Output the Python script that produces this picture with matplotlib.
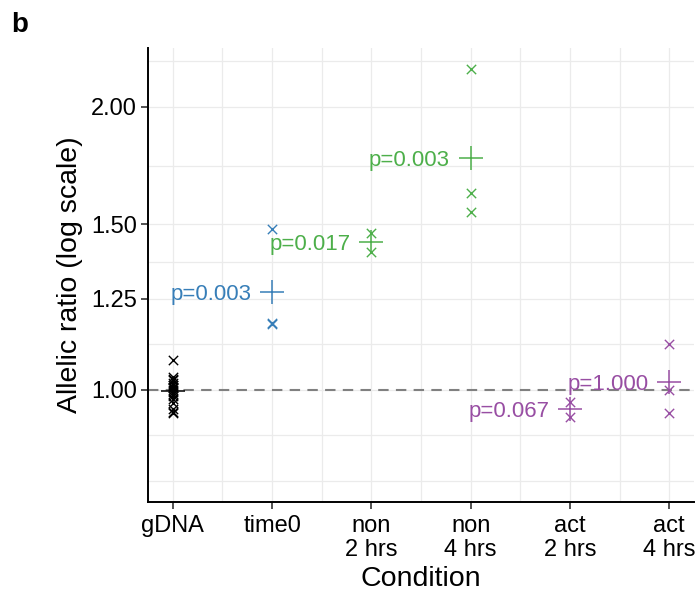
import numpy as np
import matplotlib.pyplot as plt
from matplotlib.ticker import FixedLocator, FixedFormatter, NullLocator

plt.rcParams['font.family'] = ['Liberation Sans', 'DejaVu Sans']

# data
conditions = ["gDNA", "time0", "non\n2 hrs", "non\n4 hrs", "act\n2 hrs", "act\n4 hrs"]
gdna = [1.076, 1.032, 1.028, 1.024, 1.018, 1.012, 1.008, 1.004, 1.000,
        0.996, 0.990, 0.985, 0.978, 0.968, 0.955, 0.948, 0.945]
time0 = [1.483, 1.178, 1.175]
non_2h = [1.469, 1.402]
non_4h = [2.197, 1.620, 1.546]
act_2h = [0.971, 0.936]
act_4h = [1.119, 1.000, 0.945]
groups = [gdna, time0, non_2h, non_4h, act_2h, act_4h]
p_labels = [None, "p=0.003", "p=0.017", "p=0.003", "p=0.067", "p=1.000"]
colors = ["black", "#377EB8", "#4DAF4A", "#4DAF4A", "#984EA3", "#984EA3"]
y_breaks = [1.00, 1.25, 1.50, 2.00]
y_labels = ["1.00", "1.25", "1.50", "2.00"]
grid_breaks = [0.8, 1.00, 1.25, 1.50, 2.00, 2.5]

fig = plt.figure(figsize=(6.97, 5.99), dpi=100)
ax = fig.add_axes([0.2123, 0.162, 0.7834, 0.7579])
ax.set_yscale('log')

# grid: major breaks plus geometric midpoints
gb = np.array(grid_breaks)
minor_y = np.sqrt(gb[:-1] * gb[1:])
for y in list(gb) + list(minor_y):
    ax.axhline(y, color='#ebebeb', lw=0.9, zorder=0)
xpos = np.arange(1, len(conditions) + 1)
for x in list(xpos) + list(xpos[:-1] + 0.5):
    ax.axvline(x, color='#ebebeb', lw=0.9, zorder=0)

ax.axhline(1.0, color='#808080', lw=1.5, ls=(0, (5, 3.5)), zorder=1)

for i, (vals, col) in enumerate(zip(groups, colors)):
    x = xpos[i]
    ax.scatter([x] * len(vals), vals, marker='x', s=45, color=col, linewidths=1.0, zorder=3)
    gmean = np.exp(np.mean(np.log(vals)))
    ax.plot([x], [gmean], marker='+', ms=17, mew=1.1, color=col, zorder=3)
    if p_labels[i]:
        ax.annotate(p_labels[i], xy=(x, gmean), xytext=(-15, -5.6), textcoords='offset points',
                    ha='right', va='baseline', color=col, fontsize=16, zorder=2)

ax.set_xlim(0.75, 6.25)
ax.set_ylim(0.760, 2.311)
ax.set_xticks(xpos)
ax.set_xticklabels(conditions, fontsize=17, linespacing=1.08)
ax.yaxis.set_major_locator(FixedLocator(y_breaks))
ax.yaxis.set_major_formatter(FixedFormatter(y_labels))
ax.yaxis.set_minor_locator(NullLocator())
ax.tick_params(axis='y', labelsize=17, pad=3)
ax.tick_params(axis='x', pad=4.5)
ax.tick_params(length=5, width=1.2, color='#333333')

for s in ['top', 'right']:
    ax.spines[s].set_visible(False)
for s in ['left', 'bottom']:
    ax.spines[s].set_linewidth(1.4)
    ax.spines[s].set_color('black')

ax.set_xlabel("Condition", fontsize=20.5, labelpad=4)
ax.set_ylabel("Allelic ratio (log scale)", fontsize=20.5, labelpad=6)

fig.text(0.016, 0.958, "b", fontsize=20, fontweight='bold', ha='left', va='center')

fig.savefig("out.png", dpi=100)
